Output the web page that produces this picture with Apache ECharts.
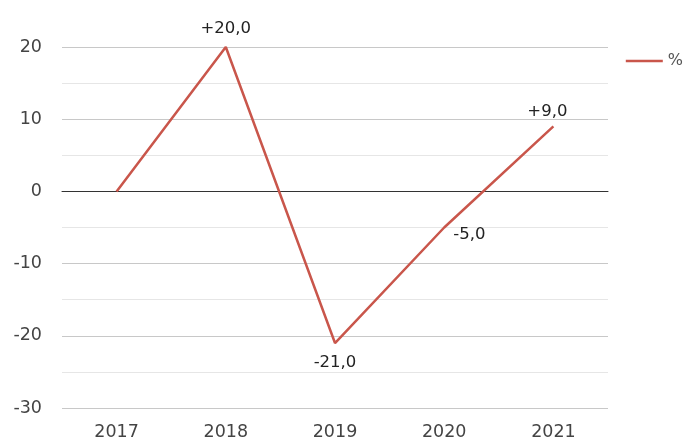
<!DOCTYPE html>
<html><head><meta charset="utf-8">
<script src="https://cdn.jsdelivr.net/npm/echarts@6/dist/echarts.min.js"></script>
<style>html,body{margin:0;padding:0;background:#fff}#c{width:691px;height:441px}</style>
</head><body><div id="c"></div>
<script>
const categories = ['2017','2018','2019','2020','2021'];
const values = [0, 20, -21, -5, 9];
const labelPositions = [null, 'top', 'bottom', 'right', 'top'];
const seriesName = '%';

const labelTweaks = [null, {distance: 10}, {distance: 11}, {distance: 9, offset: [0, 7]}, {distance: 6, offset: [-6, 0]}];

const chart = echarts.init(document.getElementById('c'));
const fmt = v => (v > 0 ? '+' : '') + v.toFixed(1).replace('.', ',');
chart.setOption({
  animation: false,
  grid: {left: 62, right: 83, top: 47, bottom: 32},
  legend: {
    data: [seriesName], right: 3, top: 48, itemWidth: 37, itemHeight: 14, itemGap: 10,
    icon: 'path://M0,6 L37,6 L37,8.5 L0,8.5 Z',
    textStyle: {fontFamily: 'DejaVu Sans', fontSize: 16, color: '#555'}
  },
  xAxis: {
    type: 'category', data: categories, boundaryGap: true,
    axisLine: {onZero: true, lineStyle: {color: '#333', width: 1}},
    axisTick: {show: false},
    axisLabel: {fontFamily: 'DejaVu Sans', fontSize: 17.5, color: '#444', margin: 15},
    position: 'bottom'
  },
  yAxis: {
    type: 'value', min: -30, max: 20, interval: 10,
    axisLine: {show: false}, axisTick: {show: false},
    axisLabel: {fontFamily: 'DejaVu Sans', fontSize: 17.5, color: '#444', margin: 20},
    splitLine: {lineStyle: {color: '#c8c8c8', width: 1}},
    minorTick: {show: false, splitNumber: 2},
    minorSplitLine: {show: true, lineStyle: {color: '#e6e6e6', width: 1}}
  },
  series: [{
    name: seriesName, type: 'line', data: values.map((v, i) => ({
      value: v,
      label: labelPositions[i] ? Object.assign({show: true, position: labelPositions[i]}, labelTweaks[i]) : {show: false}
    })),
    symbol: 'circle', symbolSize: 0, showSymbol: true,
    lineStyle: {color: '#c9564b', width: 2.5},
    itemStyle: {color: '#c9564b'},
    label: {fontFamily: 'DejaVu Sans', fontSize: 16.5, color: '#222',
      formatter: p => fmt(p.value)}
  }]
});
</script></body></html>
